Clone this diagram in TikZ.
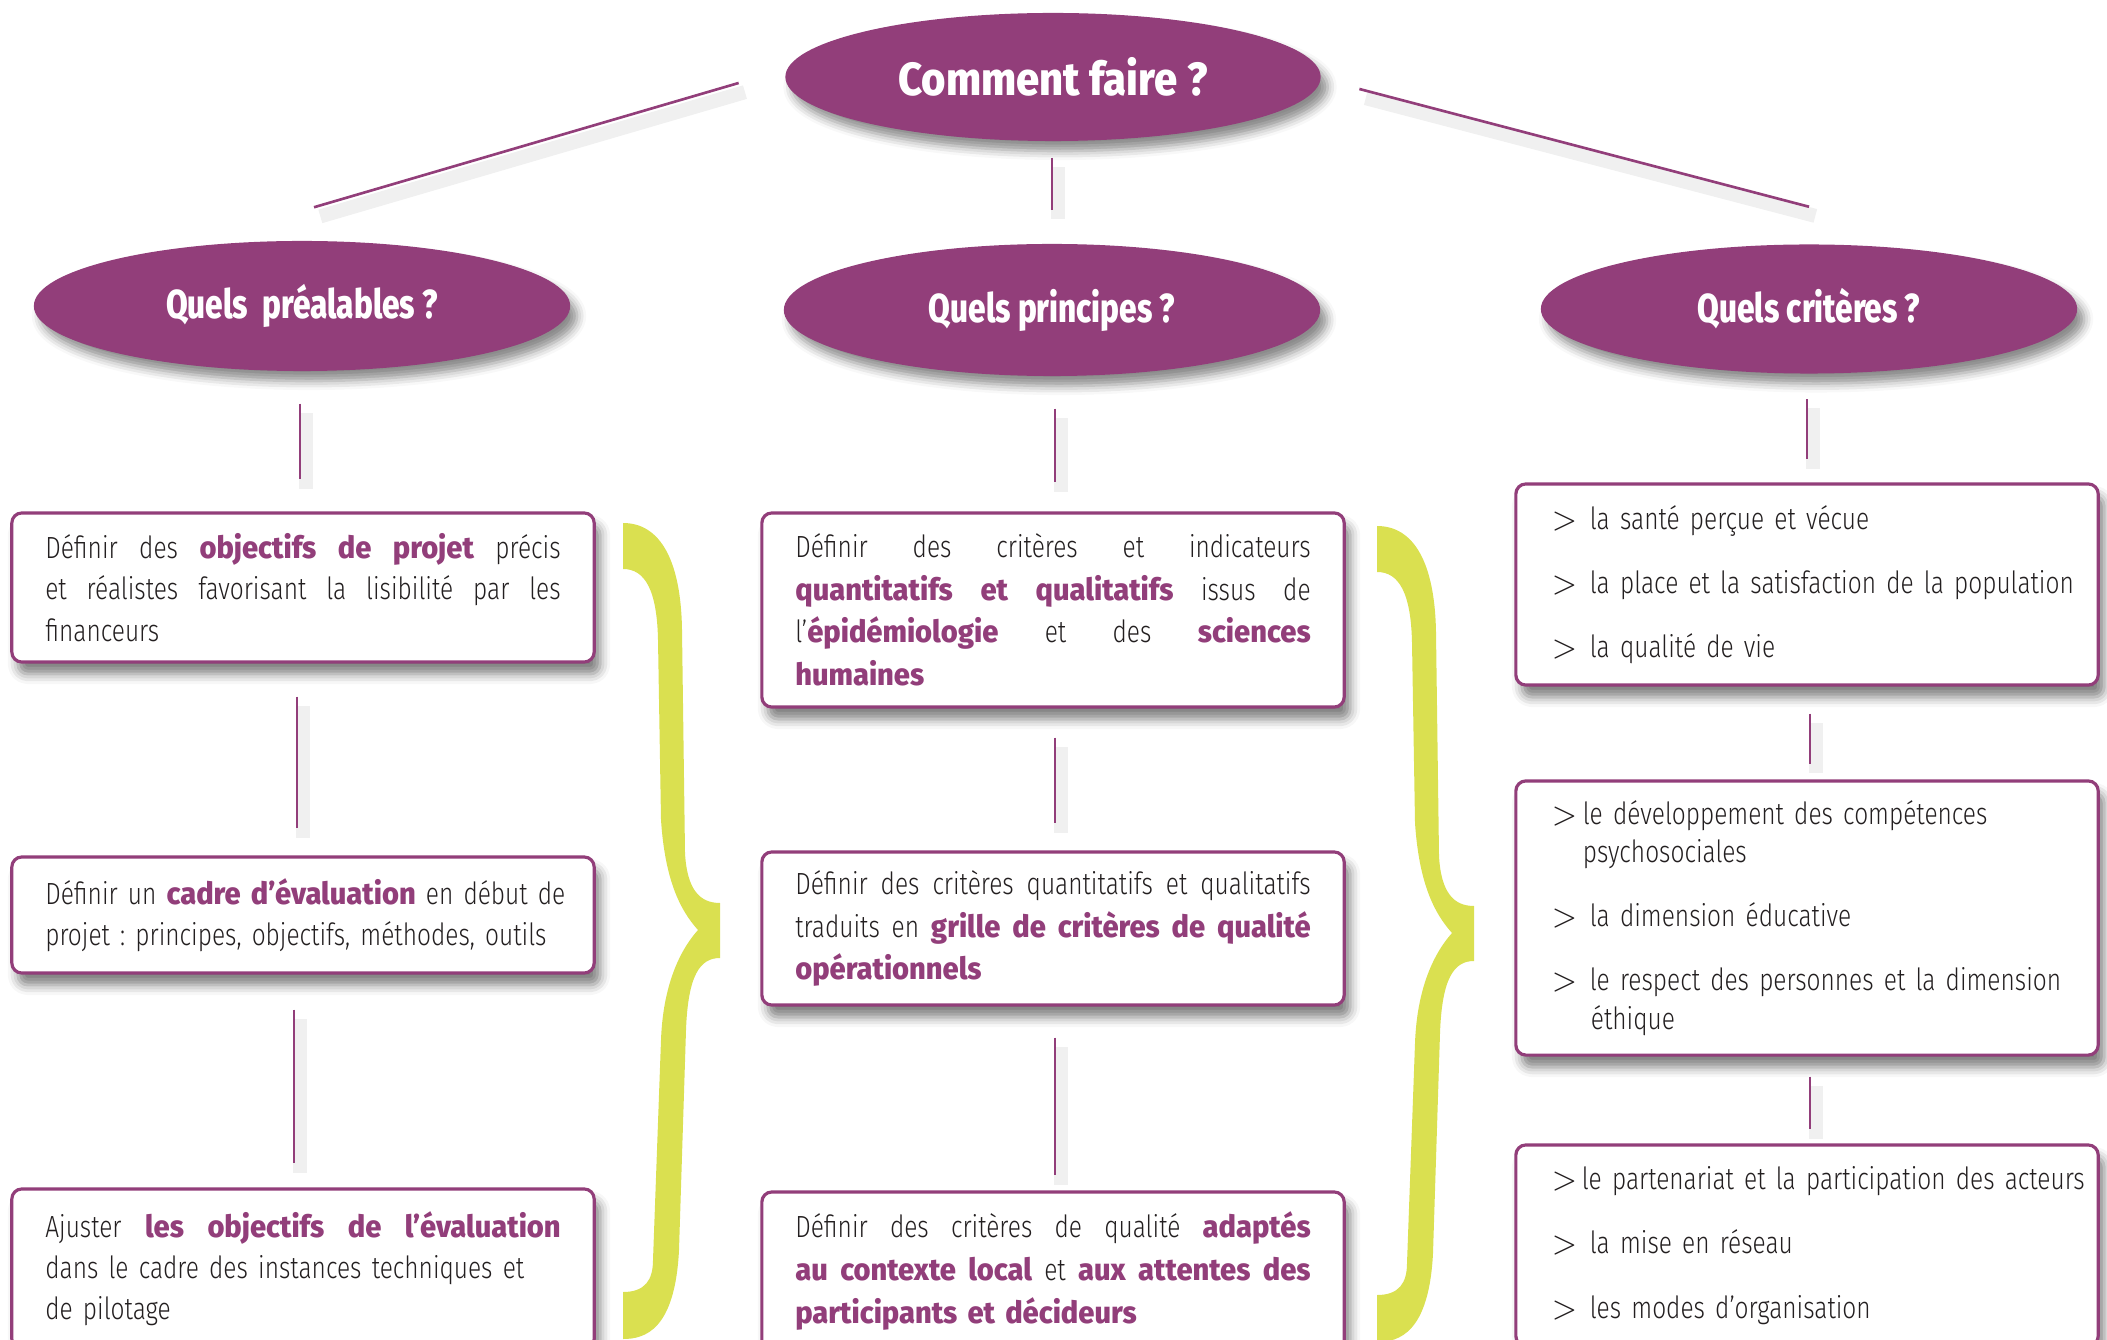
\documentclass[tikz,border=0pt]{standalone}
\usepackage{fontspec}
\setmainfont{Fira Sans Light}[FakeStretch=0.80]
\newfontfamily\hlfont{Fira Sans ExtraBold}[FakeStretch=0.95]
\newfontfamily\ttlfont{Fira Sans ExtraBold}[FakeStretch=0.78]
\newfontfamily\topfont{Fira Sans ExtraBold}[FakeStretch=0.90]
\usetikzlibrary{shapes.geometric, shadows.blur}
\definecolor{mauve}{RGB}{146,62,122}
\definecolor{lime}{RGB}{218,224,80}
\definecolor{ink}{RGB}{35,31,32}
\frenchspacing
\newcommand{\hl}[1]{{\hlfont\color{mauve}#1}}
\newcommand{\jl}[1]{\leavevmode\hbox to 5.15cm{\spaceskip=\fontdimen2\font plus 1fil minus 0.1em\relax #1}}
\newcommand{\itm}[2]{\mbox{\hspace*{0.2cm}\makebox[#1][l]{$>$}#2}}
\tikzset{
  ell/.style={ellipse, fill=mauve, text=white, minimum width=5.36cm, minimum height=1.30cm,
    inner sep=0pt, font=\ttlfont\fontsize{11.5}{13}\selectfont,
    blur shadow={shadow xshift=0.07cm, shadow yshift=-0.10cm, shadow blur radius=0.09cm, shadow opacity=45}},
  box/.style={rectangle, rounded corners=0.1cm, draw=mauve, line width=0.9pt, fill=white,
    minimum width=5.82cm, text width=5.15cm, inner xsep=0.335cm, inner ysep=0pt, text=ink,
    align=left, font=\fontsize{8.7}{11.7}\selectfont,
    blur shadow={shadow xshift=0.06cm, shadow yshift=-0.12cm, shadow blur radius=0.1cm, shadow opacity=50}},
  mbox/.style={box, font=\fontsize{8.7}{12.1}\selectfont},
  rbox/.style={box, text width=5.5cm, inner xsep=0.16cm},
  conn/.style={draw=mauve, line width=0.75pt,
    preaction={draw=black!6, line width=4pt, transform canvas={shift={(1.8pt,-2.6pt)}}}},
  bracepic/.pic={
    \fill[lime] (623,523) .. controls (660,523) and (681,560) .. (682,630)
      -- (685,853) .. controls (687,890) and (700,903) .. (720,903)
      -- (720,958) .. controls (700,958) and (688,975) .. (686,1030)
      -- (679,1250) .. controls (675,1330) and (645,1339) .. (623,1339)
      -- (623,1292) .. controls (645,1292) and (653,1280) .. (653,1260)
      -- (661,1040) .. controls (663,985) and (680,950) .. (698,930)
      .. controls (680,910) and (665,880) .. (661,820)
      -- (658,640) .. controls (657,590) and (645,569) .. (623,569) -- cycle;
  }
}
\begin{document}
\begin{tikzpicture}[x=0.01cm, y=-0.01cm]
\useasboundingbox (0,0) rectangle (2107,1340);
\clip (0,0) rectangle (2107,1340);

% braces
\pic at (0,0) {bracepic};
\pic at (754,3) {bracepic};

% ellipses
\node[ell, font=\topfont\fontsize{13.2}{15}\selectfont, minimum width=5.35cm, minimum height=1.28cm] (top) at (1053,77) {Comment faire ?};
\node[ell] (pre) at (302,306) {Quels\ \ préalables ?};
\node[ell, minimum height=1.32cm] (pri) at (1052,310) {Quels principes ?};
\node[ell, minimum height=1.29cm] (cri) at (1809,309) {Quels critères ?};

% left column
\node[box, minimum height=1.49cm] (L1) at (303,587.5) {%
\jl{Définir des \hl{objectifs de projet} précis}\\
\jl{et réalistes favorisant la lisibilité par les}\\
financeurs};
\node[box, minimum height=1.16cm] (L2) at (303,915) {%
\mbox{Définir un \hl{cadre d’évaluation} en début de}\\
projet : principes, objectifs, méthodes, outils};
\node[box, minimum height=1.60cm] (L3) at (303,1269) {%
\jl{Ajuster \hl{les objectifs de l’évaluation}}\\
dans le cadre des instances techniques et\\
de pilotage};

% middle column
\node[mbox, minimum height=1.94cm] (M1) at (1053,610) {%
\jl{Définir des critères et indicateurs}\\
\jl{\hl{quantitatifs et qualitatifs} issus de}\\
\jl{l’\hl{épidémiologie} et des \hl{sciences}}\\
\hl{humaines}};
\node[mbox, minimum height=1.53cm] (M2) at (1053,928.5) {%
\jl{Définir des critères quantitatifs et qualitatifs}\\
\jl{traduits en \hl{grille de critères de qualité}}\\
\hl{opérationnels}};
\node[mbox, minimum height=1.58cm] (M3) at (1053,1271) {%
\jl{Définir des critères de qualité \hl{adaptés}}\\
\jl{\hl{au contexte local} et \hl{aux attentes des}}\\
\hl{participants et décideurs}};

% right column
\node[rbox, minimum height=2.01cm] (R1) at (1807,584.5) {%
\itm{0.38cm}{la santé perçue et vécue}\\[0.23cm]
\itm{0.38cm}{la place et la satisfaction de la population}\\[0.23cm]
\itm{0.38cm}{la qualité de vie}};
\node[rbox, minimum height=2.74cm] (R2) at (1807,918) {%
\itm{0.31cm}{le développement des compétences}\\[-0.03cm]
\hspace*{0.51cm}psychosociales\\[0.23cm]
\itm{0.38cm}{la dimension éducative}\\[0.23cm]
\itm{0.38cm}{le respect des personnes et la dimension}\\[-0.03cm]
\hspace*{0.59cm}éthique};
\node[rbox, minimum height=2.01cm] (R3) at (1807,1245.5) {%
\itm{0.30cm}{le partenariat et la participation des acteurs}\\[0.23cm]
\itm{0.38cm}{la mise en réseau}\\[0.23cm]
\itm{0.38cm}{les modes d’organisation}};

% connectors
\draw[conn] ([shift={(-46,6)}]top.west) -- ([shift={(12,-33)}]pre.north);
\draw[conn] ([shift={(38,12)}]top.east) -- ([shift={(0,-37)}]cri.north);
\draw[conn] ([shift={(-1,16)}]top.south) -- ([shift={(0,-33)}]pri.north);

\draw[conn] ([shift={(-2,32)}]pre.south) -- ([shift={(-3,-32)}]L1.north);
\draw[conn] ([shift={(3,32)}]pri.south) -- ([shift={(2,-29)}]M1.north);
\draw[conn] ([shift={(-2,25)}]cri.south) -- ([shift={(0,-23)}]R1.north);

\draw[conn] ([shift={(-6,33)}]L1.south) -- ([shift={(-6,-27)}]L2.north);
\draw[conn] ([shift={(-9,35)}]L2.south) -- ([shift={(-9,-24)}]L3.north);
\draw[conn] ([shift={(2,29)}]M1.south) -- ([shift={(2,-27)}]M2.north);
\draw[conn] ([shift={(2,31)}]M2.south) -- ([shift={(2,-15)}]M3.north);
\draw[conn] ([shift={(3,27)}]R1.south) -- ([shift={(3,-15)}]R2.north);
\draw[conn] ([shift={(3,20)}]R2.south) -- ([shift={(3,-14)}]R3.north);
\end{tikzpicture}
\end{document}
